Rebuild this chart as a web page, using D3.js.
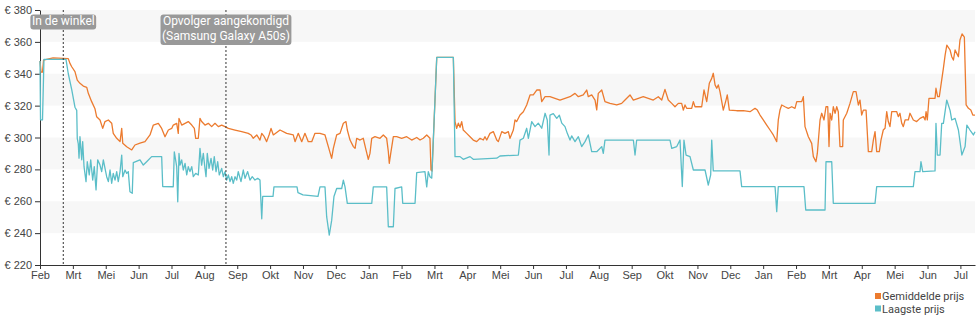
<!DOCTYPE html>
<html>
<head>
<meta charset="utf-8">
<script src="https://cdn.jsdelivr.net/npm/d3@7"></script>
<style>
    body { margin: 0; background: #fff; }
    svg { display: block; font-family: Roboto, "Noto Sans", sans-serif; }
    .axis text { font-size: 11px; fill: #444; }
    .axis path, .axis line { stroke: #333; }
    .band { fill: #f7f7f7; }
    .event-line { stroke: #333; stroke-dasharray: 2 2; }
    .event-box { fill: #999; }
    .event-text { fill: #fff; font-size: 12px; text-anchor: middle; }
    .legend text { font-size: 11px; fill: #444; }
</style>
</head>
<body>
<div id="graph"></div>
<script>
/*
    Price history, average and lowest price
    x values are days after the first tick (27 feb 2019)
*/
var startDate = new Date(Date.UTC(2019, 1, 27, 12))

var monthNames = ["Jan", "Feb", "Mrt", "Apr", "Mei", "Jun", "Jul", "Aug", "Sep", "Okt", "Nov", "Dec"]
var tickStepDays = 31.5
var tickCount = 29
var yTicks = [220, 240, 260, 280, 300, 320, 340, 360, 380]
var yBands = [[240, 260], [280, 300], [320, 340], [360, 380]]

var seriesNames = ["Gemiddelde prijs", "Laagste prijs"]
var seriesColors = ["#ec7b2f", "#5bbec8"]

var eventDays = [22.3, 178.2]
var eventLabels = [["In de winkel"], ["Opvolger aangekondigd", "(Samsung Galaxy A50s)"]]

// Gemiddelde prijs
var avgPrice = [
    [0, 348], [1, 341], [2.4, 341], [3.4, 348.6], [12.5, 350], [27.1, 349.5], [28.7, 346.5], [30.4, 344.4],
    [33.5, 341.3], [35.7, 336], [38.3, 334], [41.5, 332.3], [44.8, 331.5], [46.3, 327.7], [49.5, 322.5],
    [52.7, 318], [54.3, 313], [57.5, 311], [60.1, 305.7], [62.3, 310], [65.5, 311], [68.7, 309], [70.2, 302.6],
    [73.5, 299.5], [76.7, 297.4], [78.3, 305.7], [79.3, 296.4], [83.1, 294.2], [87.9, 292.2], [91, 295.3],
    [95.8, 296.4], [100.6, 297.4], [105.4, 301.6], [108.6, 307.8], [113.4, 308.9], [116.6, 305.7], [119.8, 300.5],
    [123, 304.7], [126.2, 305.7], [127.7, 307.8], [131, 308.9], [132.5, 302.6], [133.2, 312], [135.8, 307.8],
    [139, 308.9], [142.1, 310], [145.4, 307.8], [147.9, 305.7], [149.2, 299.5], [151.7, 299.5], [153.3, 312],
    [154.9, 310], [158.1, 307.8], [161.3, 308.9], [164.5, 306.8], [167.7, 308.9], [170.9, 306.8], [174.1, 307.8],
    [177.3, 306.8], [180.5, 305.7], [186.9, 304.7], [193.3, 303.7], [199.6, 302.6], [202.2, 301.6], [204.4, 299.5],
    [207.7, 301.6], [210.8, 298.4], [212.5, 302.6], [214.9, 300.5], [217.2, 297.4], [219.5, 301.6], [221.4, 305.7],
    [223.6, 301.6], [230, 304.7], [236.4, 302.6], [242.7, 301.6], [244.4, 297.4], [247.5, 302.6], [250.8, 297.4],
    [253.9, 302.6], [257.1, 297.4], [260.4, 297.4], [263.5, 302.6], [268.3, 302.6], [273.1, 301.6], [276.3, 294.3],
    [279.5, 286.9], [281.1, 293.2], [284.3, 301.6], [287.5, 302.6], [290.7, 308.9], [293.2, 310], [294.5, 304.7],
    [297.1, 298.4], [300.3, 294.3], [301.9, 293.2], [303.5, 299.5], [306.7, 298.4], [309.8, 299.5], [312.4, 292.2],
    [314.6, 286.3], [316.2, 290], [317.9, 299.5], [321, 300.5], [325.8, 299.5], [329, 301.6], [332.2, 299.5],
    [333.8, 291.1], [334.7, 283.8], [336.1, 290], [338.6, 300.5], [341.8, 300.5], [346.6, 299.5], [351.4, 300.5],
    [356.2, 298.4], [361, 300], [364.2, 298.4], [367.3, 299.5], [370.6, 301.6], [373.7, 299.5], [374.7, 279.6],
    [375.7, 279], [380.2, 350.3], [396.1, 350.3], [397.7, 310], [399.3, 305.8], [400.9, 309], [402.5, 306.4],
    [404.1, 310], [405.6, 304.7], [408.9, 302.6], [412.1, 300.5], [415.2, 298.4], [418.5, 297.4], [421.7, 299.5],
    [424.8, 298.4], [426.4, 300.5], [428.1, 298.4], [431.2, 302.6], [434.4, 303.7], [437.7, 298.4], [439.2, 297.4],
    [442.5, 303.7], [445.6, 302.6], [448.8, 303.7], [450.4, 299.5], [453.6, 304.7], [455.2, 311], [456.8, 310],
    [460, 314.1], [463.2, 316.2], [466.4, 320.4], [469.6, 326.7], [472.7, 326.7], [476, 329.8], [479.2, 329.8],
    [480.8, 322.5], [484, 325.6], [488.7, 325.6], [493.5, 324.6], [498.3, 323.5], [503.1, 324.6], [507.9, 325.6],
    [512.7, 327.7], [515.9, 325.6], [520.6, 326.7], [523.9, 329.8], [525.4, 325.6], [528.7, 326.7], [531.9, 323.5],
    [533.5, 317.3], [535, 327.7], [538.3, 329.8], [541.4, 322.5], [546.2, 321.4], [552.7, 320.4], [557.4, 321.4],
    [560.6, 323.5], [565.4, 326.7], [568.6, 323.5], [573.4, 324.6], [578.1, 325.6], [582.9, 324.6], [587.7, 323.5],
    [592.5, 325.6], [595.8, 323.5], [598.9, 330.2], [602.1, 323.5], [605.4, 321.4], [608.5, 319.3], [611.7, 321.4],
    [614.9, 321.4], [616.5, 317.2], [618.1, 320.4], [619.7, 318.3], [624.5, 318.3], [626.1, 322.5], [627.7, 319.3],
    [634.1, 319.3], [636.3, 329.8], [638.9, 322.5], [641.4, 334], [643.7, 337.1], [645.2, 340.3], [646.9, 333],
    [648.5, 330.9], [650, 333], [651.6, 328.8], [654.8, 317.2], [657.4, 323.5], [658.6, 326.7], [660.6, 317.2],
    [667.6, 316.8], [674, 316.8], [680.4, 316.2], [685.2, 318.3], [687.4, 317.2], [690, 314.1], [693.1, 311],
    [696.4, 307.8], [699.6, 304.7], [702.7, 301.6], [706, 297.4], [707.5, 311], [709.1, 317.2], [710.8, 320.4],
    [713.9, 319.3], [717.1, 318.3], [720.4, 319.3], [723.5, 318.3], [725.2, 322.5], [729.9, 322.5], [731.5, 325.6],
    [733.1, 306.8], [736.3, 300.5], [739.5, 296.3], [741.1, 288], [743.6, 284.8], [744.9, 290], [747.5, 311],
    [749.1, 315.2], [751.3, 311], [753.2, 319.3], [754.9, 319.3], [756.1, 294.3], [757.1, 315.2], [758.7, 311],
    [760.2, 319.3], [761.9, 315.2], [763.5, 319.3], [765, 316.2], [766.6, 294.3], [769.2, 294.3], [769.8, 311],
    [773.1, 315.2], [776.2, 321.4], [779.4, 328.8], [782, 328.8], [784.2, 320.4], [785.8, 323.5], [787.4, 314.1],
    [789, 317.2], [791.6, 317.2], [792.3, 308.9], [793.8, 291.1], [797, 291.1], [798.6, 298.4], [800.2, 303.7],
    [801.8, 291.1], [804.3, 291.1], [805.9, 298.4], [808.1, 304.7], [809.8, 305.8], [811.4, 316.2], [812.9, 310],
    [814.5, 306.8], [816.2, 316.2], [821, 316.2], [822.5, 313.1], [824.1, 315.2], [825.8, 308.9], [827.3, 306.8],
    [829, 311], [832.1, 311], [833.7, 315.2], [836.9, 311], [840.1, 310], [843.3, 312], [846.6, 313.1],
    [848.2, 311], [849.1, 316.2], [850.3, 311], [851.9, 324.6], [857.7, 324.6], [858.6, 330.9], [860.2, 325.6],
    [861.8, 325.6], [864.1, 336.1], [865.7, 343.4], [867.4, 351.8], [869, 358], [872.1, 354.9], [873.7, 350.7],
    [875.3, 348.6], [876.9, 354.9], [878.5, 352.8], [880.1, 350.7], [881.6, 361.2], [883.6, 365], [885.8, 363],
    [887.5, 320.4], [889.7, 318.3], [892, 317.2], [893.9, 314.1], [896, 314.1]
]

// Laagste prijs
var lowPrice = [
    [0, 348], [0.5, 311], [2.4, 311], [3.8, 349], [24.9, 349], [27.1, 340], [30.4, 330], [33.5, 319],
    [35.2, 317], [35.7, 299.5], [36.7, 296], [37.4, 287], [38.3, 300.5], [40, 286], [40.9, 297.4], [42.2, 281.7],
    [44.1, 272.3], [45.3, 284.8], [47.2, 276.5], [48.6, 286], [50.5, 273.3], [52, 281.7], [53.7, 267.1], [55.3, 286],
    [57.5, 282.7], [59.1, 278.6], [60.7, 286], [62.3, 280.6], [63.9, 275.4], [65.5, 272.3], [67.1, 279.6], [68.7, 271.3],
    [70.2, 277.5], [71.9, 273.3], [73.5, 278.6], [75, 272.3], [76.7, 278.6], [78.3, 289], [79.3, 275.4], [81.5, 279.6],
    [83.1, 277.5], [84.6, 278.6], [86.2, 266], [88.4, 265], [89.4, 284.2], [95.8, 286], [99, 282.7], [102.2, 284.8],
    [107, 288], [116.6, 288], [117.6, 269.2], [127.7, 269.1], [128.7, 291], [131, 281.7], [132, 259.7], [133.2, 290],
    [134.2, 282.7], [135.8, 285.9], [137.3, 279.6], [139, 283.8], [140.6, 276.5], [142.1, 281.7], [143.7, 278.6],
    [145.4, 281.7], [146.9, 275.4], [149.2, 277.5], [151.7, 276.5], [153.3, 293.2], [154.9, 282.7], [156.5, 290],
    [158.1, 280.6], [159.1, 275.4], [160.3, 290], [162, 280.6], [163.9, 286.9], [165.5, 279.6], [167, 288],
    [168.7, 278.6], [170.3, 284.8], [171.8, 276.5], [174.1, 280.6], [175.7, 275.4], [177.3, 278.6], [178.9, 273.3],
    [180.5, 276.5], [182.1, 272.3], [183.7, 275.4], [185.2, 271.2], [186.9, 275.4], [188.5, 273.3], [190, 278.6],
    [192.6, 272.3], [194.8, 279.6], [196.5, 274.4], [199, 278.6], [201.2, 273.3], [203.4, 275.4], [206, 273.3],
    [208.6, 274.4], [210.8, 273.3], [211.5, 263], [212.5, 249], [213.4, 263], [223.3, 263], [224.2, 269],
    [246.3, 269], [247.2, 265.4], [252, 264], [266.4, 263], [268.3, 269], [273.1, 269], [274.7, 250.3], [277.2, 238.8],
    [279.5, 248], [281.7, 263], [284.3, 268], [289.1, 268], [290.7, 273.3], [292.3, 269], [294.5, 258.7], [317.9, 258.7],
    [319.4, 269], [332.2, 269], [333.8, 244], [338.6, 244], [340.2, 268], [346.6, 269], [347.6, 258.7], [359.4, 258.7],
    [361, 278], [368.9, 278.6], [370.6, 269], [372.1, 278.6], [373.7, 275.4], [375.4, 274.5], [380.2, 350.3],
    [396.1, 350.3], [397.7, 288], [402.5, 288], [405.6, 286.3], [412.1, 288], [415.2, 286.3], [437.7, 287],
    [440.8, 288.4], [458.4, 289], [460, 298.4], [463.2, 299.5], [466.4, 305.8], [468, 299.5], [471.2, 310],
    [474.4, 306.8], [477.5, 309], [480.8, 305.8], [484, 315.2], [486.1, 311], [487.8, 289], [488.7, 314],
    [491.9, 315], [495.2, 312], [497.7, 314], [500, 309], [503.1, 306.8], [505.3, 302.6], [507.9, 298.4],
    [509.5, 301], [512.7, 297.4], [515.9, 300.5], [519.1, 294.3], [522.3, 297.4], [525.4, 301.6], [528.7, 291.1],
    [533.5, 291.1], [538.3, 294.3], [539.8, 290], [541.4, 298.4], [568.6, 298.4], [570.2, 289], [571.8, 298.4],
    [603.7, 298.4], [605.4, 293.2], [610.2, 294.3], [613.3, 298.4], [615.5, 269.2], [617.1, 298.4], [619.1, 289],
    [622.9, 288], [626.1, 279.6], [637.3, 279.6], [640.4, 270.2], [642.7, 276.5], [643.7, 298.4], [645.2, 279],
    [670.8, 279], [672.4, 269.2], [704.4, 269.2], [706, 253.5], [707.5, 269.2], [732.1, 269.2], [733.8, 254.5],
    [752.3, 254.5], [753.2, 284.8], [758.7, 284.8], [760.2, 258.7], [800.2, 258.7], [801.8, 269.2], [836.9, 269.2],
    [838.5, 278.6], [843.3, 278.6], [844.2, 284.8], [845.9, 278.6], [857.7, 279], [858.6, 308.9], [859.9, 289],
    [862.5, 289], [864.1, 308.9], [865.7, 308.9], [868.9, 323.5], [872.1, 317], [873.7, 311], [876.9, 312],
    [880.1, 304.7], [883.4, 289], [886.5, 294.3], [888.2, 307.8], [891.2, 304.7], [894.5, 301.6], [896, 303.6]
]

/*
    Set the dimensions and margins of the graph
*/
var size = { width: 980, height: 325 }
var margin = { top: 10, right: 5, bottom: 60, left: 40 },
    width = size.width - margin.left - margin.right,
    height = size.height - margin.top - margin.bottom

function toDate(day) {
    return new Date(startDate.getTime() + day * 864e5)
}

var svg = d3.select("#graph").append("svg")
    .attr("width", size.width)
    .attr("height", size.height)
    .append("g")
    .attr("transform", "translate(" + margin.left + "," + margin.top + ")")

var x = d3.scaleUtc()
    .domain(d3.extent(avgPrice.concat(lowPrice), function (d) { return toDate(d[0]) }))
    .range([0, width])

var y = d3.scaleLinear()
    .domain([220, 380])
    .range([height, 0])

// grey bands
svg.selectAll("rect.band")
    .data(yBands)
    .enter().append("rect")
    .attr("class", "band")
    .attr("x", 0)
    .attr("width", width)
    .attr("y", function (d) { return y(d[1]) })
    .attr("height", function (d) { return y(d[0]) - y(d[1]) })

var xTickValues = d3.range(tickCount).map(function (i) {
    return toDate(i * tickStepDays)
})

svg.append("g")
    .attr("class", "x axis")
    .attr("transform", "translate(0," + height + ")")
    .call(d3.axisBottom(x)
        .tickValues(xTickValues)
        .tickFormat(function (d) { return monthNames[d.getUTCMonth()] })
        .tickSize(4)
        .tickPadding(2)
        .tickSizeOuter(0))

svg.append("g")
    .attr("class", "y axis")
    .call(d3.axisLeft(y)
        .tickValues(yTicks)
        .tickFormat(function (d) { return "€ " + d })
        .tickSize(5)
        .tickPadding(3)
        .tickSizeOuter(0))

// the two price lines, lowest on top
var line = d3.line()
    .x(function (d) { return x(toDate(d[0])) })
    .y(function (d) { return y(d[1]) })

;[avgPrice, lowPrice].forEach(function (series, i) {
    svg.append("path")
        .attr("fill", "none")
        .attr("stroke", seriesColors[i])
        .attr("stroke-width", 1.3)
        .attr("stroke-linejoin", "round")
        .attr("d", line(series))
})

// events
eventDays.forEach(function (day, i) {
    var ex = x(toDate(day))
    svg.append("line")
        .attr("class", "event-line")
        .attr("x1", ex).attr("x2", ex)
        .attr("y1", 0).attr("y2", height)

    var g = svg.append("g")
    g.selectAll("text")
        .data(eventLabels[i])
        .enter().append("text")
        .attr("class", "event-text")
        .attr("x", ex)
        .attr("y", function (d, j) { return 14.5 + j * 15.5 })
        .text(function (d) { return d })

    var bb = g.node().getBBox()
    g.insert("rect", "text")
        .attr("class", "event-box")
        .attr("x", bb.x - 1.5)
        .attr("y", 4.5)
        .attr("width", bb.width + 3)
        .attr("height", bb.height + 1)
        .attr("rx", 3)
})

// legend
var legend = svg.append("g")
    .attr("class", "legend")
    .attr("transform", "translate(" + (width - 100) + "," + (height + 28) + ")")

seriesNames.forEach(function (name, i) {
    legend.append("rect")
        .attr("x", 0)
        .attr("y", i * 12.5)
        .attr("width", 6)
        .attr("height", 6)
        .attr("fill", seriesColors[i])
    legend.append("text")
        .attr("x", 7)
        .attr("y", i * 12.5 + 7)
        .text(name)
})
</script>
</body>
</html>
